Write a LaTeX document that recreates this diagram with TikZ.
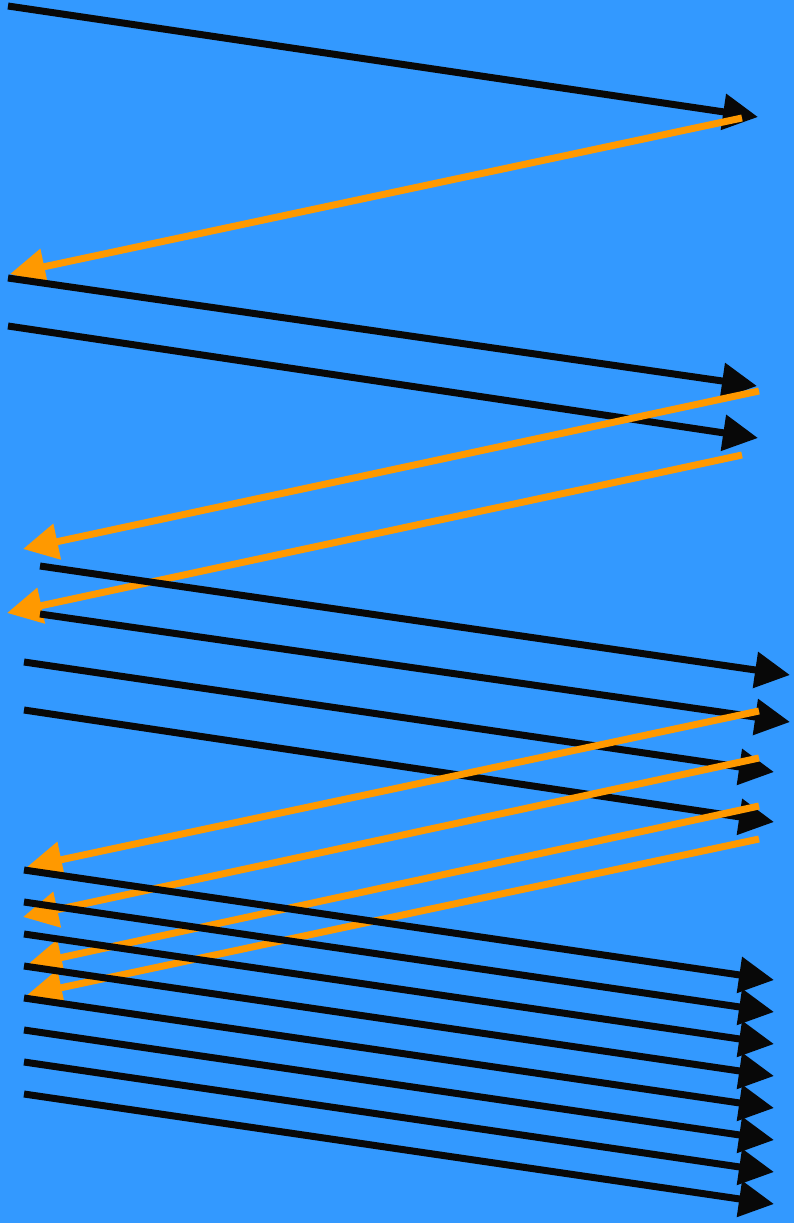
\documentclass[tikz,border=0pt]{standalone}
\usetikzlibrary{arrows.meta}
\definecolor{bgblue}{HTML}{3399FF}
\definecolor{msgorange}{HTML}{FF9900}
\definecolor{msgblack}{HTML}{080808}
\tikzset{
  fwd/.style={draw=msgblack, line width=7pt, -{Triangle[length=35pt,width=35pt]}, fill=msgblack},
  back/.style={draw=msgorange, line width=7pt, -{Triangle[length=35pt,width=35pt]}, fill=msgorange},
}
\begin{document}
\begin{tikzpicture}[x=1pt,y=-1pt]
\fill[bgblue] (0,0) rectangle (794,1223);
\useasboundingbox (0,0) rectangle (794,1223);
% black messages
\coordinate (b1s) at (8,6);     \coordinate (b1e) at (758,117);
\coordinate (b2s) at (8,278);   \coordinate (b2e) at (757,386);
\coordinate (b3s) at (8,326);   \coordinate (b3e) at (758,438);
\coordinate (b4s) at (40,566);  \coordinate (b4e) at (790,675);
\coordinate (b5s) at (40,614);  \coordinate (b5e) at (790,722);
\coordinate (b6s) at (24,662);  \coordinate (b6e) at (774,772);
\coordinate (b7s) at (24,710);  \coordinate (b7e) at (774,822);
\coordinate (b8s) at (24,870);  \coordinate (b8e) at (774,980);
\coordinate (b9s) at (24,902);  \coordinate (b9e) at (774,1012);
\coordinate (b10s) at (24,934); \coordinate (b10e) at (774,1044);
\coordinate (b11s) at (24,966); \coordinate (b11e) at (774,1076);
\coordinate (b12s) at (24,998); \coordinate (b12e) at (774,1108);
\coordinate (b13s) at (24,1030); \coordinate (b13e) at (774,1140);
\coordinate (b14s) at (24,1062); \coordinate (b14e) at (774,1172);
\coordinate (b15s) at (24,1094); \coordinate (b15e) at (774,1204);
% orange messages
\coordinate (o1s) at (742,118); \coordinate (o1e) at (10,274);
\coordinate (o2s) at (759,391); \coordinate (o2e) at (23,549);
\coordinate (o3s) at (742,455); \coordinate (o3e) at (7,613);
\coordinate (o4s) at (759,711); \coordinate (o4e) at (27,867);
\coordinate (o5s) at (759,758); \coordinate (o5e) at (23,917);
\coordinate (o6s) at (759,806); \coordinate (o6e) at (27,965);
\coordinate (o7s) at (759,839); \coordinate (o7e) at (27,995);

\draw[fwd] (b1s) -- (b1e);
\draw[back] (o1s) -- (o1e);
\draw[fwd] (b2s) -- (b2e);
\draw[fwd] (b3s) -- (b3e);
\draw[back] (o2s) -- (o2e);
\draw[back] (o3s) -- (o3e);
\draw[fwd] (b4s) -- (b4e);
\draw[fwd] (b5s) -- (b5e);
\draw[fwd] (b6s) -- (b6e);
\draw[fwd] (b7s) -- (b7e);
\draw[back] (o4s) -- (o4e);
\draw[back] (o5s) -- (o5e);
\draw[back] (o6s) -- (o6e);
\draw[back] (o7s) -- (o7e);
\draw[fwd] (b8s) -- (b8e);
\draw[fwd] (b9s) -- (b9e);
\draw[fwd] (b10s) -- (b10e);
\draw[fwd] (b11s) -- (b11e);
\draw[fwd] (b12s) -- (b12e);
\draw[fwd] (b13s) -- (b13e);
\draw[fwd] (b14s) -- (b14e);
\draw[fwd] (b15s) -- (b15e);
\end{tikzpicture}
\end{document}
